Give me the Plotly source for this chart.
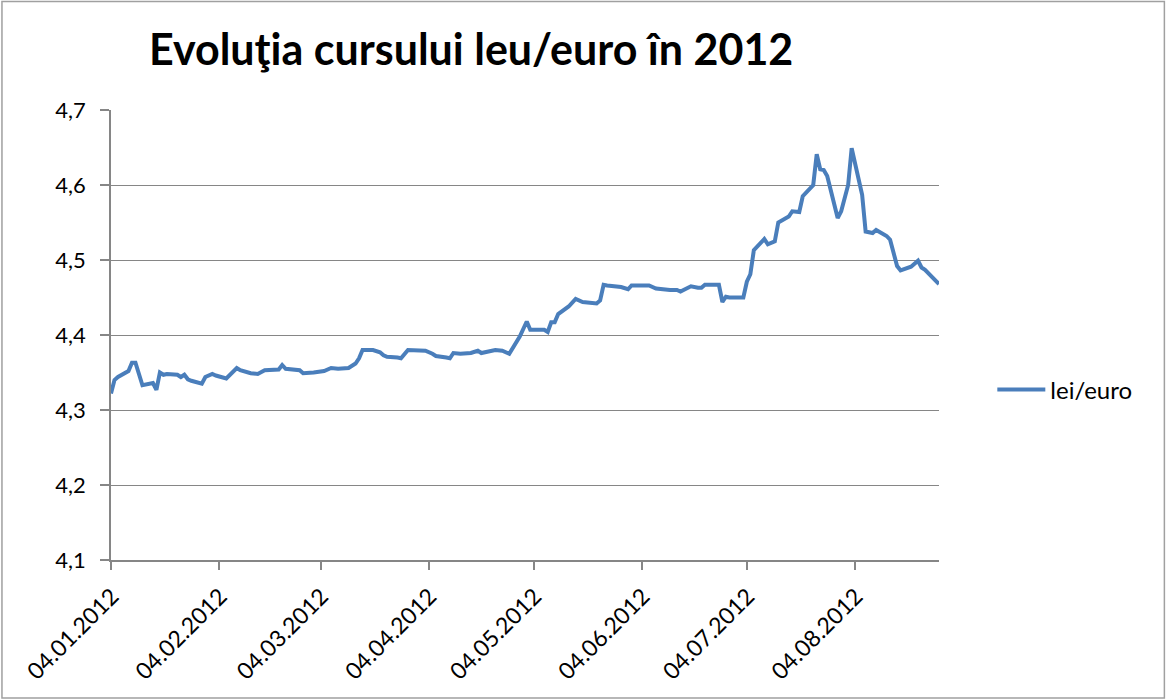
import plotly.graph_objects as go

dates = [
    "2012-01-04", "2012-01-05", "2012-01-06", "2012-01-09", "2012-01-10", "2012-01-11",
    "2012-01-13", "2012-01-16", "2012-01-17", "2012-01-18", "2012-01-19", "2012-01-20",
    "2012-01-23", "2012-01-24", "2012-01-25", "2012-01-26", "2012-01-27", "2012-01-30",
    "2012-01-31", "2012-02-02", "2012-02-03", "2012-02-06", "2012-02-09", "2012-02-10",
    "2012-02-13", "2012-02-15", "2012-02-17", "2012-02-21", "2012-02-22", "2012-02-23",
    "2012-02-27", "2012-02-28", "2012-03-02", "2012-03-05", "2012-03-07", "2012-03-09",
    "2012-03-12", "2012-03-14", "2012-03-15", "2012-03-16", "2012-03-19", "2012-03-21",
    "2012-03-22", "2012-03-23", "2012-03-26", "2012-03-27", "2012-03-29", "2012-03-30",
    "2012-04-03", "2012-04-05", "2012-04-06", "2012-04-09", "2012-04-10", "2012-04-11",
    "2012-04-13", "2012-04-16", "2012-04-17", "2012-04-18", "2012-04-19", "2012-04-20",
    "2012-04-23", "2012-04-25", "2012-04-27", "2012-04-30", "2012-05-02", "2012-05-03",
    "2012-05-07", "2012-05-08", "2012-05-09", "2012-05-10", "2012-05-11", "2012-05-14",
    "2012-05-16", "2012-05-18", "2012-05-22", "2012-05-23", "2012-05-24", "2012-05-25",
    "2012-05-28", "2012-05-29", "2012-05-31", "2012-06-01", "2012-06-06", "2012-06-08",
    "2012-06-12", "2012-06-14", "2012-06-15", "2012-06-18", "2012-06-20", "2012-06-21",
    "2012-06-22", "2012-06-26", "2012-06-27", "2012-06-28", "2012-06-29", "2012-07-03",
    "2012-07-04", "2012-07-05", "2012-07-06", "2012-07-09", "2012-07-10", "2012-07-12",
    "2012-07-13", "2012-07-16", "2012-07-17", "2012-07-19", "2012-07-20", "2012-07-23",
    "2012-07-24", "2012-07-25", "2012-07-26", "2012-07-27", "2012-07-30", "2012-07-31",
    "2012-08-02", "2012-08-03", "2012-08-06", "2012-08-07", "2012-08-09", "2012-08-10",
    "2012-08-13", "2012-08-14", "2012-08-16", "2012-08-17", "2012-08-20", "2012-08-22",
    "2012-08-23", "2012-08-24", "2012-08-28",
]

lei_euro = [
    4.322, 4.340, 4.344, 4.352, 4.363, 4.363,
    4.333, 4.336, 4.327, 4.350, 4.347, 4.348,
    4.347, 4.344, 4.347, 4.341, 4.339, 4.335,
    4.344, 4.348, 4.346, 4.342, 4.356, 4.353,
    4.349, 4.348, 4.353, 4.354, 4.360, 4.355,
    4.353, 4.349, 4.350, 4.352, 4.356, 4.355,
    4.356, 4.362, 4.369, 4.380, 4.380, 4.377,
    4.373, 4.371, 4.370, 4.369, 4.380, 4.380,
    4.379, 4.375, 4.372, 4.370, 4.369, 4.376,
    4.375, 4.376, 4.377, 4.379, 4.376, 4.377,
    4.380, 4.379, 4.375, 4.398, 4.418, 4.407,
    4.407, 4.404, 4.417, 4.417, 4.428, 4.438,
    4.448, 4.444, 4.442, 4.446, 4.467, 4.466,
    4.465, 4.464, 4.461, 4.466, 4.466, 4.462,
    4.460, 4.460, 4.458, 4.465, 4.463, 4.463,
    4.467, 4.467, 4.444, 4.451, 4.450, 4.450,
    4.471, 4.481, 4.513, 4.528, 4.521, 4.525,
    4.550, 4.558, 4.565, 4.564, 4.585, 4.600,
    4.641, 4.621, 4.620, 4.612, 4.556, 4.565,
    4.600, 4.649, 4.587, 4.538, 4.536, 4.540,
    4.532, 4.527, 4.492, 4.486, 4.491, 4.499,
    4.490, 4.487, 4.468,
]

tick_dates = ["2012-01-04", "2012-02-04", "2012-03-04", "2012-04-04",
              "2012-05-04", "2012-06-04", "2012-07-04", "2012-08-04"]
tick_labels = ["04.01.2012", "04.02.2012", "04.03.2012", "04.04.2012",
               "04.05.2012", "04.06.2012", "04.07.2012", "04.08.2012"]
y_ticks = [4.1, 4.2, 4.3, 4.4, 4.5, 4.6, 4.7]

title_text = "Evoluţia cursului leu/euro în 2012"
series_name = "lei/euro"

FONT = "Lato, 'Open Sans', sans-serif"
GRID = "#868686"

fig = go.Figure()
fig.add_trace(go.Scatter(
    x=dates, y=lei_euro, mode="lines", name=series_name,
    line=dict(color="#4A7EBB", width=4),
))

W, H = 1166, 700
L, R, T, B = 111, 938.7, 110, 560
pw, ph = R - L, B - T

def px_x(p):
    return (p - L) / pw

def px_y(p):
    return (B - p) / ph

fig.update_layout(
    width=W, height=H,
    margin=dict(l=L, r=W - R, t=T, b=H - B, autoexpand=False),
    paper_bgcolor="white", plot_bgcolor="white",
    separators=", ",
    font=dict(family=FONT, size=22, color="black"),
    title=dict(
        text="<b>" + title_text + "</b>",
        font=dict(family=FONT, size=43, color="black"),
        xref="paper", x=px_x(471), xanchor="center",
        yref="container", y=1 - 50 / H, yanchor="middle",
    ),
    showlegend=True,
    legend=dict(
        x=px_x(992), xanchor="left", y=px_y(390), yanchor="middle",
        font=dict(family=FONT, size=24, color="black"),
        bgcolor="rgba(0,0,0,0)", itemwidth=48,
    ),
    xaxis=dict(
        type="date",
        range=["2012-01-04", "2012-08-28"],
        tickmode="array", tickvals=tick_dates, ticktext=tick_labels,
        tickangle=-45,
        showgrid=False, zeroline=False,
        showline=True, linecolor=GRID, linewidth=1.5,
        ticks="outside", ticklen=8, tickcolor=GRID, tickwidth=1.5,
        tickfont=dict(family=FONT, size=23, color="black"),
        ticklabelstandoff=4, ticklabelshift=1,
    ),
    yaxis=dict(
        range=[4.1, 4.7],
        tickmode="array", tickvals=y_ticks, tickformat=".1f",
        showgrid=True, gridcolor=GRID, gridwidth=1.2,
        zeroline=False,
        showline=True, linecolor=GRID, linewidth=1.5,
        ticks="outside", ticklen=9, tickcolor=GRID, tickwidth=1.5,
        tickfont=dict(family=FONT, size=22, color="black"),
        ticklabelstandoff=10,
    ),
    shapes=[dict(
        type="rect", xref="paper", yref="paper",
        x0=px_x(2), x1=px_x(1164), y0=px_y(698), y1=px_y(1.5),
        line=dict(color="#A0A0A0", width=1.5), fillcolor="rgba(0,0,0,0)",
        layer="below",
    )],
)

fig.write_html("out.html", config={"displayModeBar": False},
               post_script="document.body.style.margin='0px';")
